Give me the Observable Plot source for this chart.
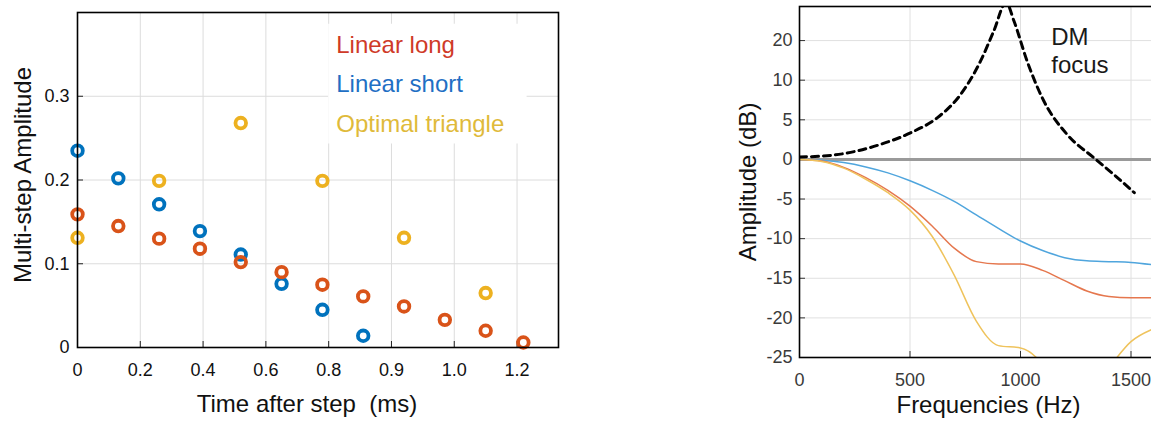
<!DOCTYPE html>
<html><head><meta charset="utf-8">
<script src="https://cdn.jsdelivr.net/npm/d3@7"></script>
<script src="https://cdn.jsdelivr.net/npm/@observablehq/plot@0.6"></script>
<style>
html,body{margin:0;padding:0;background:#fff;overflow:hidden}
#wrap{position:relative;width:1151px;height:421px;overflow:hidden;background:#fff}
#left{position:absolute;left:0;top:0;width:560px;height:421px}
#right{position:absolute;left:720px;top:0;width:560px;height:421px}
#wrap svg{max-width:none !important;display:block}
</style></head>
<body><div id="wrap"><div id="left"></div><div id="right"></div></div>
<script>
// ---------- Left panel data ----------
const seriesNames = ["Linear short", "Linear long", "Optimal triangle"];
const markerColors = ["#0072bd", "#d95319", "#edb120"];
const legendOrder = ["Linear long", "Linear short", "Optimal triangle"];
const legendColors = ["#cf3a28", "#1f6fc4", "#dfba3a"];
const times = [0, 0.13, 0.26, 0.39, 0.52, 0.65, 0.78, 0.91, 1.04, 1.17, 1.30, 1.42];
const linearLong = [0.159, 0.145, 0.130, 0.118, 0.102, 0.090, 0.075, 0.061, 0.049, 0.033, 0.020, 0.006];
const linearShort = [0.235, 0.202, 0.171, 0.139, 0.111, 0.076, 0.045, 0.014];
const optimalTimes = [0, 0.26, 0.52, 0.78, 1.04, 1.30];
const optimalTriangle = [0.131, 0.199, 0.268, 0.199, 0.131, 0.065];
const xTicksLeft = [0, 0.2, 0.4, 0.6, 0.8, 1.0, 1.2, 1.4];
const xTickLabelsLeft = ["0", "0.2", "0.4", "0.6", "0.8", "0.9", "1.0", "1.2"];
const yTicksLeft = [0, 0.1, 0.2, 0.3];
const yTickLabelsLeft = ["0", "0.1", "0.2", "0.3"];

// ---------- Right panel data ----------
const freqs = [0, 100, 200, 300, 400, 500, 600, 700, 800, 900, 1000, 1100, 1200, 1300, 1400, 1500, 1600];
const respShort = [0, -0.1, -0.4, -0.95, -1.7, -2.7, -3.9, -5.3, -7.0, -8.7, -10.3, -11.5, -12.4, -12.8, -12.9, -13.0, -13.3];
const respLong = [0, -0.2, -1.0, -2.3, -3.9, -5.9, -8.4, -11.2, -12.9, -13.2, -13.2, -14.0, -15.3, -16.6, -17.3, -17.45, -17.45];
const respTriangle = [0, -0.25, -1.1, -2.5, -4.2, -6.4, -9.7, -14.6, -20.4, -23.5, -23.8, -25.9, -31, -30, -26.3, -23.0, -21.4];
const focusFreqs = [0, 155, 367, 502, 623, 729, 819, 879, 935, 970, 1030, 1105, 1211, 1332, 1422, 1515];
const focusResp = [0.3, 0.55, 1.9, 3.35, 5.25, 8.2, 12.4, 16.2, 19.8, 17.5, 12.4, 7.4, 3.15, 0.2, -1.9, -4.2];
const lineColors = ["#4fa5dd", "#e5774e", "#efc35c"];
const yTicksRight = [-25, -20, -15, -10, -5, 0, 5, 10, 15];
const yTickLabelsRight = ["-25", "-20", "-15", "-10", "-5", "0", "5", "10", "20"];
const xTicksRight = [0, 500, 1000, 1500, 2000];
const annotation = "DM\nfocus";

const font = "'Liberation Sans', Arial, Helvetica, sans-serif";

// ---------- Left chart ----------
const leftRows = [
  ...linearShort.map((v, i) => ({series: "Linear short", t: times[i], v})),
  ...linearLong.map((v, i) => ({series: "Linear long", t: times[i], v})),
  ...optimalTriangle.map((v, i) => ({series: "Optimal triangle", t: optimalTimes[i], v}))
];
const xLabMap = new Map(xTicksLeft.map((t, i) => [t, xTickLabelsLeft[i]]));
const yLabMap = new Map(yTicksLeft.map((t, i) => [t, yTickLabelsLeft[i]]));
const legendRows = legendOrder.map((name, i) => ({name, i}));

const left = Plot.plot({
  width: 560, height: 421,
  marginLeft: 77, marginRight: 2, marginTop: 12, marginBottom: 74,
  style: {fontFamily: font, background: "white", color: "#111"},
  x: {domain: [0, 1.532]},
  y: {domain: [0, 0.4]},
  color: {domain: seriesNames, range: markerColors},
  marks: [
    Plot.gridX(xTicksLeft, {stroke: "#dcdcdc", strokeOpacity: 1}),
    Plot.gridY(yTicksLeft, {stroke: "#dcdcdc", strokeOpacity: 1}),
    Plot.rect([0], {x1: 0.8, x2: 1.432, y1: 0.243, y2: 0.386, fill: "white"}),
    Plot.axisX(xTicksLeft, {tickSize: 6, dy: -6, tickFormat: () => "", label: null, stroke: "#222"}),
    Plot.axisY([...yTicksLeft, 0.4], {tickSize: 6, dx: 6, tickFormat: () => "", label: null, stroke: "#222"}),
    Plot.axisX(xTicksLeft, {tickSize: 0, tickPadding: 16, fontSize: 18, tickFormat: d => xLabMap.get(d), label: null, fill: "#111"}),
    Plot.axisY(yTicksLeft, {tickSize: 0, tickPadding: 8, fontSize: 18, tickFormat: d => yLabMap.get(d), label: null, fill: "#111"}),
    Plot.dot(leftRows, {x: "t", y: "v", stroke: "series", r: 5.3, strokeWidth: 3.8, fill: "none"}),
    Plot.text(legendRows, {x: () => 0.824, y: d => 0.3515 - d.i * 0.047, text: "name", fill: d => legendColors[d.i],
      textAnchor: "start", lineAnchor: "bottom", fontSize: 24}),
    Plot.frame({stroke: "#000", strokeWidth: 1.6}),
    Plot.text(["Time after step  (ms)"], {frameAnchor: "bottom", dx: -11, dy: 64, lineAnchor: "bottom", fontSize: 24, fill: "#111"}),
    Plot.text(["Multi-step Amplitude"], {frameAnchor: "left", rotate: -90, textAnchor: "middle", dx: -47, dy: -5, lineAnchor: "bottom", fontSize: 24, fill: "#111"})
  ]
});
document.getElementById("left").appendChild(left);

// ---------- Right chart ----------
const rightRows = [
  ...respShort.map((v, i) => ({series: "Linear short", f: freqs[i], v})),
  ...respLong.map((v, i) => ({series: "Linear long", f: freqs[i], v})),
  ...respTriangle.map((v, i) => ({series: "Optimal triangle", f: freqs[i], v}))
];
const focusRows = focusFreqs.map((f, i) => ({f, v: focusResp[i]}));
const yLabMapR = new Map(yTicksRight.map((t, i) => [t, yTickLabelsRight[i]]));

const right = Plot.plot({
  width: 560, height: 421,
  marginLeft: 79, marginRight: 39, marginTop: 6, marginBottom: 64,
  style: {fontFamily: font, background: "white", color: "#333"},
  x: {domain: [0, 2000]},
  y: {domain: [-25, 19.3]},
  color: {domain: seriesNames, range: lineColors},
  marks: [
    Plot.gridX(xTicksRight, {stroke: "#e0e0e0", strokeOpacity: 1}),
    Plot.gridY(yTicksRight, {stroke: "#e0e0e0", strokeOpacity: 1}),
    Plot.ruleY([0], {stroke: "#9a9a9a", strokeWidth: 3}),
    Plot.axisX(xTicksRight, {tickSize: 6, dy: -6, tickFormat: () => "", label: null, stroke: "#333"}),
    Plot.axisY(yTicksRight, {tickSize: 6, dx: 6, tickFormat: () => "", label: null, stroke: "#333"}),
    Plot.axisX(xTicksRight, {tickSize: 0, tickPadding: 16, fontSize: 18, tickFormat: d => String(d), label: null, fill: "#3a3a3a"}),
    Plot.axisY(yTicksRight, {tickSize: 0, tickPadding: 7, fontSize: 18, tickFormat: d => yLabMapR.get(d), label: null, fill: "#3a3a3a"}),
    Plot.line(rightRows, {x: "f", y: "v", z: "series", stroke: "series", strokeWidth: 1.5, curve: "monotone-x", clip: true}),
    Plot.line(focusRows, {x: "f", y: "v", stroke: "#000", strokeWidth: 3, strokeDasharray: "7,5", curve: "monotone-x", clip: true}),
    Plot.text([annotation], {x: () => 1139, y: () => 10.9, textAnchor: "start", lineAnchor: "bottom", lineHeight: 1.18, fontSize: 24, fill: "#1a1a1a"}),
    Plot.frame({stroke: "#000", strokeWidth: 1.6}),
    Plot.text(["Frequencies (Hz)"], {frameAnchor: "bottom", dx: -32, dy: 55, lineAnchor: "bottom", fontSize: 24, fill: "#111"}),
    Plot.text(["Amplitude (dB)"], {frameAnchor: "left", rotate: -90, textAnchor: "middle", dx: -44, dy: 0, lineAnchor: "bottom", fontSize: 24, fill: "#111"})
  ]
});
document.getElementById("right").appendChild(right);
</script>
</body></html>
